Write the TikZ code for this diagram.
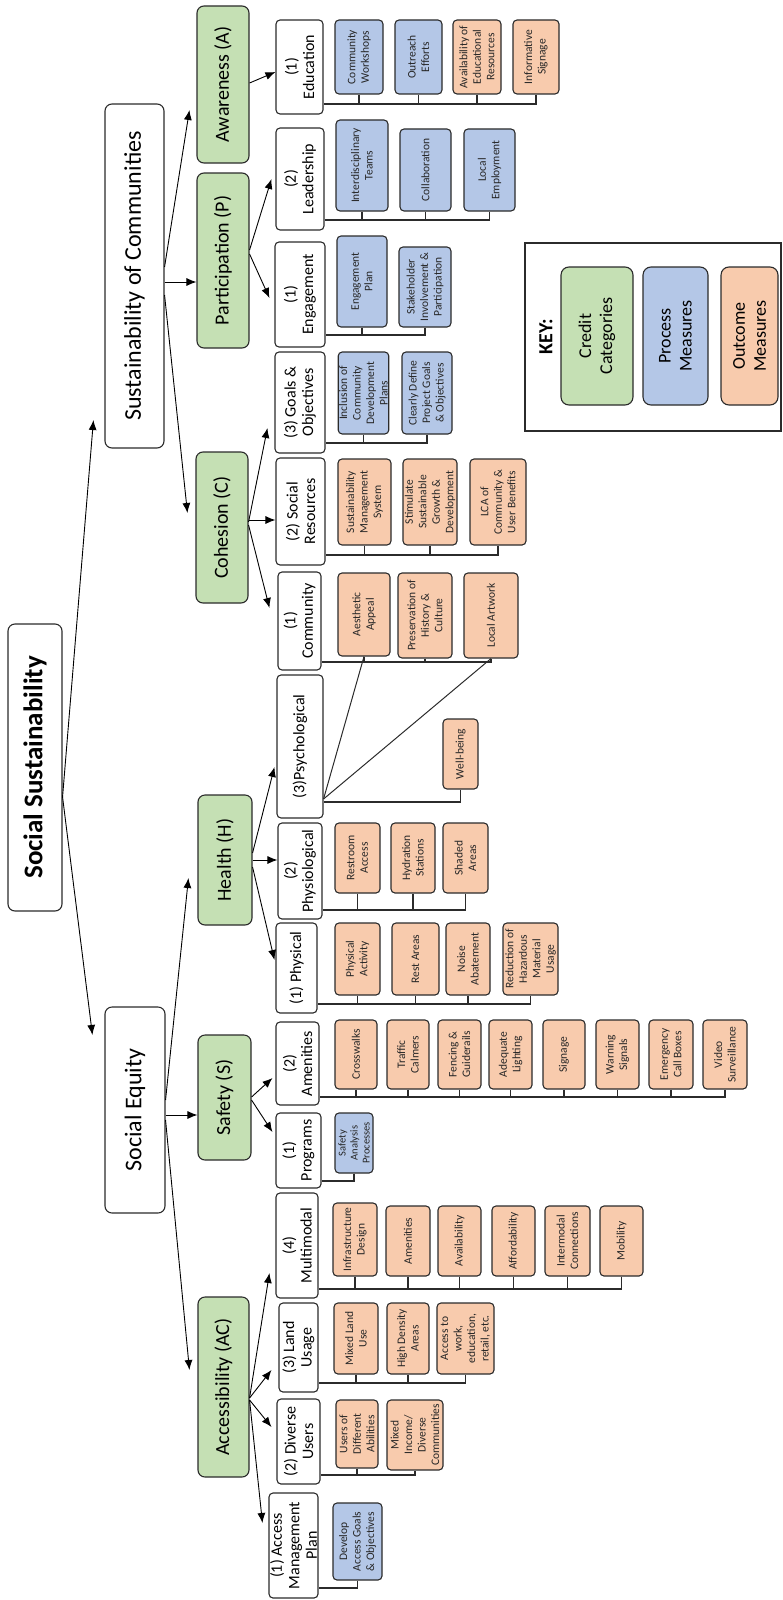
\documentclass[tikz,border=0pt]{standalone}
\usepackage{fontspec}
\setmainfont{Carlito}
\usetikzlibrary{arrows.meta,calc}
\definecolor{cgreen}{HTML}{C5E0B4}
\definecolor{cblue}{HTML}{B4C7E7}
\definecolor{corange}{HTML}{F8CBAD}
\definecolor{cline}{HTML}{2B2B2B}
\tikzset{
 boxbase/.style={draw=cline, line width=1.1pt, rounded corners=4pt, rotate=90, align=center, inner sep=1pt, text=black},
 rootbox/.style={boxbase, fill=white, font=\fontsize{27}{32}\selectfont\bfseries, rounded corners=7pt},
 topbox/.style={boxbase, fill=white, font=\fontsize{24}{28}\selectfont, rounded corners=7pt},
 catbox/.style={boxbase, fill=cgreen, font=\fontsize{20}{24}\selectfont, rounded corners=7pt},
 subbox/.style={boxbase, fill=white, font=\fontsize{16}{17.5}\selectfont},
 procbox/.style={boxbase, fill=cblue, font=\fontsize{11.5}{13.5}\selectfont, text=black!85},
 outbox/.style={boxbase, fill=corange, font=\fontsize{11.5}{13.5}\selectfont, text=black!85},
 keybox/.style={boxbase, font=\fontsize{18}{21}\selectfont, rounded corners=8pt},
 arr/.style={draw=black, line width=0.9pt, -{Latex[length=10pt,width=8pt]}},
 bus/.style={draw=cline, line width=1.3pt},
 thinline/.style={draw=cline, line width=1pt},
}
% style, name, x1, y1, x2, y2, text
\newcommand\bx[7]{\node[#1, minimum width=#6pt-#4pt, minimum height=#5pt-#3pt] (#2) at ({(#3+#5)/2},{(#4+#6)/2}) {#7};}

\begin{document}
\begin{tikzpicture}[x=1pt,y=-1pt]
\useasboundingbox (0,0) rectangle (783,1600);

% top levels
\bx{rootbox}{root}{8}{624}{62}{911}{Social Sustainability}
\bx{topbox}{soc}{105}{104}{164}{448}{Sustainability of Communities}
\bx{topbox}{se}{105}{1007}{165}{1213}{Social Equity}

% credit categories
\bx{catbox}{aw}{197}{6}{249}{163}{Awareness (A)}
\bx{catbox}{pa}{197}{173}{249}{348}{Participation (P)}
\bx{catbox}{co}{196}{452}{248}{603}{Cohesion (C)}
\bx{catbox}{he}{198}{795}{252}{925}{Health (H)}
\bx{catbox}{sa}{198}{1035}{251}{1160}{Safety (S)}
\bx{catbox}{ac}{198}{1297}{249}{1477}{Accessibility (AC)}

% sub categories
\bx{subbox}{ed}{276}{20}{323}{114}{(1)\\Education}
\bx{subbox}{le}{276}{128}{324}{230}{(2)\\Leadership}
\bx{subbox}{en}{275}{242}{325}{347}{(1)\\Engagement}
\bx{subbox}{go}{275}{352}{325}{453}{(3) Goals \&\\Objectives}
\bx{subbox}{sr}{276}{458}{325}{565}{(2) Social\\Resources}
\bx{subbox}{cm}{278}{572}{321}{670}{(1)\\Community}
\bx{subbox}{ps}{277}{675}{323}{818}{(3)Psychological}
\bx{subbox}{pg}{278}{823}{322}{919}{(2)\\Physiological}
\bx{subbox}{ph}{276}{923}{317}{1013}{(1) Physical}
\bx{subbox}{am}{276}{1022}{319}{1105}{(2)\\Amenities}
\bx{subbox}{pr}{276}{1113}{321}{1188}{(1)\\Programs}
\bx{subbox}{mm}{276}{1193}{318}{1298}{(4)\\Multimodal}
\bx{subbox}{lu}{279}{1303}{318}{1392}{(3) Land\\Usage}
\bx{subbox}{du}{277}{1399}{320}{1484}{(2) Diverse\\Users}
\bx{subbox}{amp}{269}{1493}{318}{1598}{(1) Access\\Management\\Plan}

% Education
\bx{procbox}{cw}{335}{20}{383}{94}{Community\\Workshops}
\bx{procbox}{oe}{395}{20}{442}{94}{Outreach\\Efforts}
\bx{outbox}{ae}{453}{20}{501}{94}{Availability of\\Educational\\Resources}
\bx{outbox}{is}{513}{20}{559}{94}{Informative\\Signage}
% Leadership
\bx{procbox}{it}{336}{120}{388}{211}{Interdisciplinary\\Teams}
\bx{procbox}{cl}{400}{129}{451}{211}{Collaboration}
\bx{procbox}{lo}{464}{129}{515}{211}{Local\\Employment}
% Engagement
\bx{procbox}{ep}{337}{236}{387}{327}{Engagement\\Plan}
\bx{procbox}{st}{399}{247}{451}{327}{Stakeholder\\Involvement \&\\Participation}
% Goals
\bx{procbox}{ic}{339}{352}{388}{434}{Inclusion of\\Community\\Development\\Plans}
\bx{procbox}{cd}{402}{352}{452}{434}{Clearly Define\\Project Goals\\\& Objectives}
% Social resources
\bx{outbox}{sm}{338}{459}{391}{545}{Sustainability\\Management\\System}
\bx{outbox}{ss}{403}{459}{457}{545}{Stimulate\\Sustainable\\Growth \&\\Development}
\bx{outbox}{lc}{470}{459}{526}{545}{LCA of\\Community \&\\User Benefits}
% Community
\bx{outbox}{aa}{338}{573}{390}{656}{Aesthetic\\Appeal}
\bx{outbox}{phc}{398}{573}{452}{658}{Preservation of\\History \&\\Culture}
\bx{outbox}{la}{464}{573}{518}{658}{Local Artwork}
% Psychological
\bx{outbox}{wb}{443}{719}{478}{789}{Well-being}
% Physiological
\bx{outbox}{ra}{335}{823}{380}{893}{Restroom\\Access}
\bx{outbox}{hs}{391}{823}{435}{893}{Hydration\\Stations}
\bx{outbox}{sh}{443}{823}{488}{893}{Shaded\\Areas}
% Physical
\bx{outbox}{pac}{335}{923}{380}{995}{Physical\\Activity}
\bx{outbox}{rs}{392}{923}{439}{995}{Rest Areas}
\bx{outbox}{na}{446}{923}{490}{995}{Noise\\Abatement}
\bx{outbox}{rh}{503}{923}{558}{995}{Reduction of\\Hazardous\\Material\\Usage}
% Amenities
\bx{outbox}{cr}{335}{1020}{377}{1089}{Crosswalks}
\bx{outbox}{tc}{387}{1020}{429}{1089}{Traffic\\Calmers}
\bx{outbox}{fg}{438}{1020}{481}{1089}{Fencing \&\\Guiderails}
\bx{outbox}{al}{489}{1020}{532}{1089}{Adequate\\Lighting}
\bx{outbox}{sg}{543}{1020}{585}{1089}{Signage}
\bx{outbox}{ws}{596}{1020}{639}{1089}{Warning\\Signals}
\bx{outbox}{ec}{649}{1020}{693}{1089}{Emergency\\Call Boxes}
\bx{outbox}{vs}{703}{1020}{747}{1089}{Video\\Surveillance}
% Programs
\bx{procbox,font=\fontsize{10.5}{12}\selectfont}{sap}{335}{1113}{373}{1173}{Safety\\Analysis\\Processes}
% Multimodal
\bx{outbox}{idd}{333}{1203}{377}{1276}{Infrastructure\\Design}
\bx{outbox}{amm}{386}{1206}{430}{1276}{Amenities}
\bx{outbox}{avb}{438}{1206}{481}{1276}{Availability}
\bx{outbox}{af}{492}{1206}{535}{1276}{Affordability}
\bx{outbox}{imc}{545}{1206}{590}{1276}{Intermodal\\Connections}
\bx{outbox}{mo}{600}{1206}{643}{1276}{Mobility}
% Land usage
\bx{outbox}{ml}{334}{1303}{378}{1374}{Mixed Land\\Use}
\bx{outbox}{hd}{387}{1303}{429}{1374}{High Density\\Areas}
\bx{outbox}{atw}{437}{1303}{494}{1374}{Access to\\work,\\education,\\retail, etc.}
% Diverse users
\bx{outbox}{ud}{336}{1400}{378}{1468}{Users of\\Different\\Abilities}
\bx{outbox}{mi}{387}{1400}{443}{1470}{Mixed\\Income/\\Diverse\\Communities}
% AMP
\bx{procbox}{dv}{333}{1503}{382}{1580}{Develop\\Access Goals\\\& Objectives}

% key
\node[draw=cline, line width=1.1pt, minimum width=256pt, minimum height=188pt, inner sep=0pt] (key) at (653,337) {};
\node[rotate=90, font=\fontsize{20}{24}\selectfont\bfseries] (keyt) at (546,337) {KEY:};
\bx{keybox,fill=cgreen}{k1}{561}{267}{633}{405}{Credit\\Categories}
\bx{keybox,fill=cblue}{k2}{643}{267}{708}{405}{Process\\Measures}
\bx{keybox,fill=corange}{k3}{721}{267}{778}{405}{Outcome\\Measures}

% arrows
\draw[arr] (root.south |- 0,797) -- ($(soc.north |- 0,420)+(-11,0)$);
\draw[arr] (root.south |- 0,797) -- ($(se.north |- 0,1035)+(-12,0)$);
\draw[arr] (soc.south |- 0,267) -- ($(aw.north |- 0,110)+(-7,0)$);
\draw[arr] (soc.south |- 0,282) -- (pa.north |- 0,282);
\draw[arr] (soc.south |- 0,295) -- ($(co.north |- 0,513)+(-8,0)$);
\draw[arr] (se.south |- 0,1100) -- ($(he.north |- 0,878)+(-9,0)$);
\draw[arr] (se.south |- 0,1115) -- (sa.north |- 0,1115);
\draw[arr] (se.south |- 0,1120) -- ($(ac.north |- 0,1370)+(-8,0)$);
\draw[arr] (aw.south |- 0,83) -- (ed.north |- 0,72);
\draw[arr] (pa.south |- 0,250) -- ($(le.north |- 0,179)+(-4,0)$);
\draw[arr] (pa.south |- 0,254) -- ($(en.north |- 0,298)+(-5,0)$);
\draw[arr] (co.south |- 0,522) -- ($(go.north |- 0,428)+(-7,0)$);
\draw[arr] (co.south |- 0,520) -- (sr.north |- 0,520);
\draw[arr] (co.south |- 0,525) -- ($(cm.north |- 0,608)+(-8,0)$);
\draw[arr] (he.south |- 0,853) -- ($(ps.north |- 0,767)+(-2,0)$);
\draw[arr] (he.south |- 0,860) -- (pg.north |- 0,860);
\draw[arr] (he.south |- 0,867) -- ($(ph.north |- 0,960)+(-1,0)$);
\draw[arr] (sa.south |- 0,1097) -- ($(am.north |- 0,1078)+(-3,0)$);
\draw[arr] (sa.south |- 0,1100) -- ($(pr.north |- 0,1132)+(-3,0)$);
\draw[arr] (ac.south |- 0,1398) -- ($(mm.north |- 0,1273)+(-6,0)$);
\draw[arr] (ac.south |- 0,1398) -- ($(lu.north |- 0,1370)+(-7,0)$);
\draw[arr] (ac.south |- 0,1400) -- ($(du.north |- 0,1427)+(-5,0)$);
\draw[arr] (ac.south |- 0,1400) -- ($(amp.north |- 0,1523)+(-6,0)$);

% buses
\foreach \c in {cw,oe,ae,is} \draw[bus] (\c.west) |- (ed.south |- 0,104);
\foreach \c in {it,cl,lo} \draw[bus] (\c.west) |- (le.south |- 0,220);
\foreach \c in {ep,st} \draw[bus] (\c.west) |- (en.south |- 0,335);
\foreach \c in {ic,cd} \draw[bus] (\c.west) |- (go.south |- 0,443);
\foreach \c in {sm,ss,lc} \draw[bus] (\c.west) |- (sr.south |- 0,555);
\foreach \c in {aa,phc,la} \draw[bus] (\c.west) |- (cm.south |- 0,662);
\draw[bus] (wb.west) |- (ps.south |- 0,802);
\draw[thinline] (ps.south |- 0,799) -- (aa.west);
\draw[thinline] (ps.south |- 0,799) -- (la.west);
\foreach \c in {ra,hs,sh} \draw[bus] (\c.west) |- (pg.south |- 0,910);
\foreach \c in {pac,rs,na,rh} \draw[bus] (\c.west) |- (ph.south |- 0,1004);
\foreach \c in {cr,tc,fg,al,sg,ws,ec,vs} \draw[bus] (\c.west) |- (am.south |- 0,1097);
\draw[bus] (sap.west) |- (pr.south |- 0,1181);
\foreach \c in {idd,amm,avb,af,imc,mo} \draw[bus] (\c.west) |- (mm.south |- 0,1289);
\foreach \c in {ml,hd,atw} \draw[bus] (\c.west) |- (lu.south |- 0,1383);
\foreach \c in {ud,mi} \draw[bus] (\c.west) |- (du.south |- 0,1475);
\draw[bus] (dv.west) |- (amp.south |- 0,1588);
\end{tikzpicture}
\end{document}
